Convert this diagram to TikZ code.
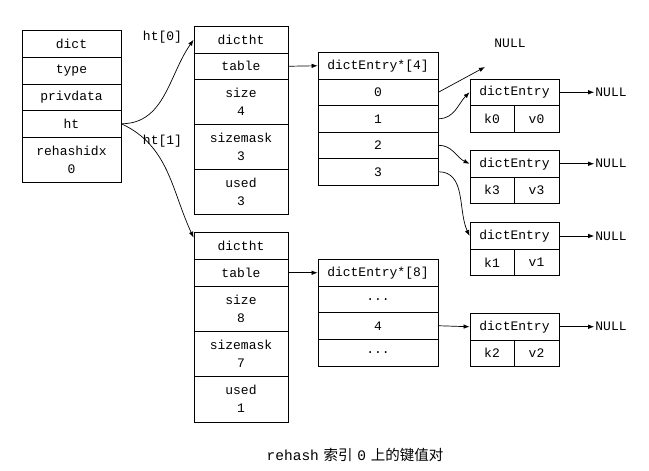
\documentclass[tikz,border=0pt]{standalone}
\usepackage{fontspec}
\setmonofont{Liberation Mono}
\newfontfamily\cjk{Noto Sans CJK SC}
\usetikzlibrary{arrows.meta}
\tikzset{
  cell/.style={draw, line width=0.8pt, inner sep=0pt, align=center,
    font=\ttfamily\fontsize{13}{18}\selectfont},
  lbl/.style={inner sep=1pt, font=\ttfamily\fontsize{13}{15}\selectfont},
  arr/.style={-{Latex[length=6pt,width=4.5pt]}, line width=0.7pt},
}
\newcommand\cellnode[6]{\node[cell, minimum width=#4pt, minimum height=#5pt] (#1) at (#2,#3) {#6};}
\begin{document}
\begin{tikzpicture}[x=1pt,y=-1pt]
\useasboundingbox (0,0) rectangle (649,471);
% dict
\cellnode{dA}{71.5}{43.75}{99}{26.5}{dict}
\cellnode{dB}{71.5}{70.5}{99}{27}{type}
\cellnode{dC}{71.5}{97.25}{99}{26.5}{privdata}
\cellnode{dD}{71.5}{123.75}{99}{26.5}{ht}
\cellnode{dE}{71.5}{159.5}{99}{45}{rehashidx\\0}
% ht[0]
\cellnode{aA}{241}{39.75}{94}{26.5}{dictht}
\cellnode{aB}{241}{66.25}{94}{26.5}{table}
\cellnode{aC}{241}{101.75}{94}{44.5}{size\\4}
\cellnode{aD}{241}{146.75}{94}{45.5}{sizemask\\3}
\cellnode{aE}{241}{191.75}{94}{44.5}{used\\3}
% ht[1]
\cellnode{bA}{241}{246}{94}{27}{dictht}
\cellnode{bB}{241}{272.75}{94}{26.5}{table}
\cellnode{bC}{241}{308.75}{94}{45.5}{size\\8}
\cellnode{bD}{241}{354}{94}{45}{sizemask\\7}
\cellnode{bE}{241}{399.25}{94}{45.5}{used\\1}
% table of 4
\cellnode{tA}{378}{65.75}{120}{26.5}{dictEntry*[4]}
\cellnode{t0}{378}{92.25}{120}{26.5}{0}
\cellnode{t1}{378}{118.75}{120}{26.5}{1}
\cellnode{t2}{378}{145.25}{120}{26.5}{2}
\cellnode{t3}{378}{171.75}{120}{26.5}{3}
% table of 8
\cellnode{uA}{378}{272.75}{120}{26.5}{dictEntry*[8]}
\cellnode{u1}{378}{299.25}{120}{26.5}{.\kern0pt.\kern0pt.}
\cellnode{u2}{378}{325.75}{120}{26.5}{4}
\cellnode{u3}{378}{352.5}{120}{27}{.\kern0pt.\kern0pt.}
% entries
\cellnode{k0h}{514.5}{92.25}{89}{26.5}{dictEntry}
\cellnode{k0k}{492}{118.75}{44}{26.5}{k0}
\cellnode{k0v}{536.5}{118.75}{45}{26.5}{v0}
\cellnode{k3h}{514.5}{163.75}{89}{26.5}{dictEntry}
\cellnode{k3k}{492}{190.25}{44}{26.5}{k3}
\cellnode{k3v}{536.5}{190.25}{45}{26.5}{v3}
\cellnode{k1h}{514.5}{236}{89}{26.5}{dictEntry}
\cellnode{k1k}{492}{262.5}{44}{26.5}{k1}
\cellnode{k1v}{536.5}{262.5}{45}{26.5}{v1}
\cellnode{k2h}{514.5}{326.75}{89}{26.5}{dictEntry}
\cellnode{k2k}{492}{353.25}{44}{26.5}{k2}
\cellnode{k2v}{536.5}{353.25}{45}{26.5}{v2}
% NULLs
\node[lbl] (nT) at (510,43) {NULL};
\node[lbl] (n0) at (611,92.25) {NULL};
\node[lbl] (n3) at (611,163.75) {NULL};
\node[lbl] (n1) at (611,236) {NULL};
\node[lbl] (n2) at (611,326.75) {NULL};
\coordinate (nTend) at (485,67);
% labels
\node[lbl] (l0) at (162.5,37) {ht[0]};
\node[lbl] (l1) at (162.5,141) {ht[1]};
% arrows
\draw[arr] (dD.east) to[out=0,in=235] (aA.west);
\draw[arr] (dD.east) to[out=-25,in=115] (bA.170);
\draw[arr] (aB.east) -- (tA.west);
\draw[arr] (bB.east) -- (uA.west);
\draw[arr] (t0.east) -- (nTend);
\draw[arr] (t1.east) to[out=0,in=225] (k0h.west);
\draw[arr] (t2.east) to[out=0,in=155] (k3h.west);
\draw[arr] (t3.east) to[out=0,in=115] (k1h.west);
\draw[arr] (u2.east) -- (k2h.west);
\draw[arr] (k0h.east) -- (n0.west);
\draw[arr] (k3h.east) -- (n3.west);
\draw[arr] (k1h.east) -- (n1.west);
\draw[arr] (k2h.east) -- (n2.west);
% caption
\node[inner sep=0pt, font=\fontsize{14.5}{17}\selectfont] (cap) at (355,455)
  {{\ttfamily rehash} {\cjk 索引} {\ttfamily 0} {\cjk 上的键值对}};
\end{tikzpicture}
\end{document}
